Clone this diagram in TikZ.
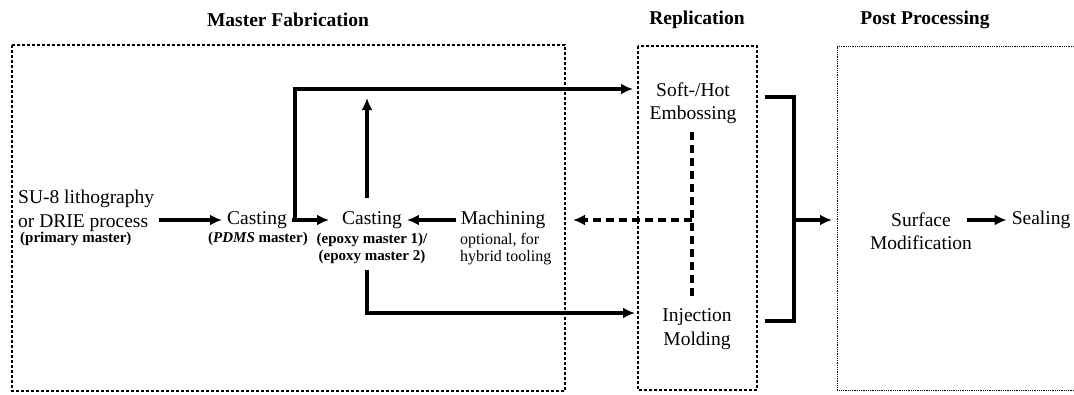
\documentclass[tikz,border=0pt]{standalone}
\usepackage{fontspec}
\setmainfont{Liberation Serif}
\usepackage{tikz}
\usetikzlibrary{calc,arrows.meta}

\begin{document}
\begin{tikzpicture}
	[   x=1pt,y=-1pt,
	    pnode/.style={font=\fontsize{19.5}{23.5}\selectfont,align=center,inner ysep=2pt,inner xsep=5pt},
	    bnote/.style={font=\fontsize{15}{17}\selectfont\bfseries,align=center,inner sep=0pt},
	    mnote/.style={font=\fontsize{16}{17}\selectfont,align=left,inner sep=0pt},
	    title/.style={font=\fontsize{19.5}{23}\selectfont\bfseries},
	    group box/.style={line width=1.4pt,dash pattern=on 3pt off 2pt},
	    post box/.style={line width=1pt,dash pattern=on 1pt off 0.8pt},
	]
	\tikzset{normal arrow/.style={draw,line width=3.8pt,-{Latex[length=12pt,width=11pt]}}}
	\tikzset{dash arrow/.style={draw,line width=3.8pt,dash pattern=on 8pt off 5pt}}
	\useasboundingbox (0,0) rectangle (1074,394);
	
	% group titles and frames
	\node[title] (t-mast) at (288,20) {Master Fabrication};
	\node[title] (t-repl) at (697,20) {Replication};
	\node[title] (t-post) at (925,20) {Post Processing};
	\draw[group box] (12,45) rectangle (565,391);
	\draw[group box] (638,46) rectangle (757,390);
	\draw[post box] (1074,46) -| (837,390) -- (1074,390);
	
	% master fabrication
	\node[pnode,align=left,anchor=west] (su8) at (13,211) {SU-8 lithography\\or DRIE process};
	\node[bnote,anchor=west] (su8-n) at (20,239) {(primary master)};
	\node[pnode] (cast1) at (257,220) {Casting};
	\node[bnote] (cast1-n) at (258,239) {(\textit{PDMS} master)};
	\node[pnode] (cast2) at (372,220) {Casting};
	\node[bnote,text depth=0pt] (cast2-n) at (372,247) {(epoxy master 1)/\\(epoxy master 2)};
	\node[pnode] (mach) at (503,220) {Machining};
	\node[mnote,anchor=west] (mach-n) at (460,249) {optional, for\\hybrid tooling};
	
	% replication
	\node[pnode] (emb) at (693,103) {Soft-/Hot\\Embossing};
	\node[pnode] (inj) at (697,329) {Injection\\Molding};
	
	% post processing
	\node[pnode] (surf) at (921,231) {Surface\\Modification};
	\node[pnode] (seal) at (1041,220) {Sealing};
	
	\coordinate (fork) at (295,220);
	\coordinate (emb-in) at (633,89);
	\coordinate (up-s) at (367,198);
	\coordinate (up-e) at (367,98);
	\coordinate (down-s) at (367,270);
	\coordinate (inj-in) at (635,313);
	\coordinate (d-top) at (692,132);
	\coordinate (d-mid) at (692,220);
	\coordinate (d-bot) at (692,297);
	\coordinate (d-tip) at (573,220);
	\coordinate (br-top) at (765,97);
	\coordinate (br-bot) at (765,321);
	\coordinate (br-mid) at (794,220);
	\coordinate (post-in) at (832,220);
	\coordinate (surf-out) at (967,220);
	
	\path[normal arrow] (su8.east |- cast1) -- (cast1);
	\path[normal arrow,shorten >=8pt] (cast1) -- (cast2);
	\path[normal arrow] (mach) -- (cast2);
	\path[normal arrow] (fork) |- (emb-in);
	\path[normal arrow] (up-s) -- (up-e);
	\path[normal arrow] (down-s) |- (inj-in);
	\draw[line width=3.8pt] (br-top) -| (br-mid) |- (br-bot);
	\path[normal arrow] (br-mid) -- (post-in);
	\path[normal arrow] (surf-out) -- (seal);
	
	% optional feedback to machining
	\path[dash arrow] (d-top) -- (d-bot);
	\path[dash arrow,-{Latex[length=12pt,width=11pt]}] (d-mid) -- (d-tip);
\end{tikzpicture}
\end{document}
